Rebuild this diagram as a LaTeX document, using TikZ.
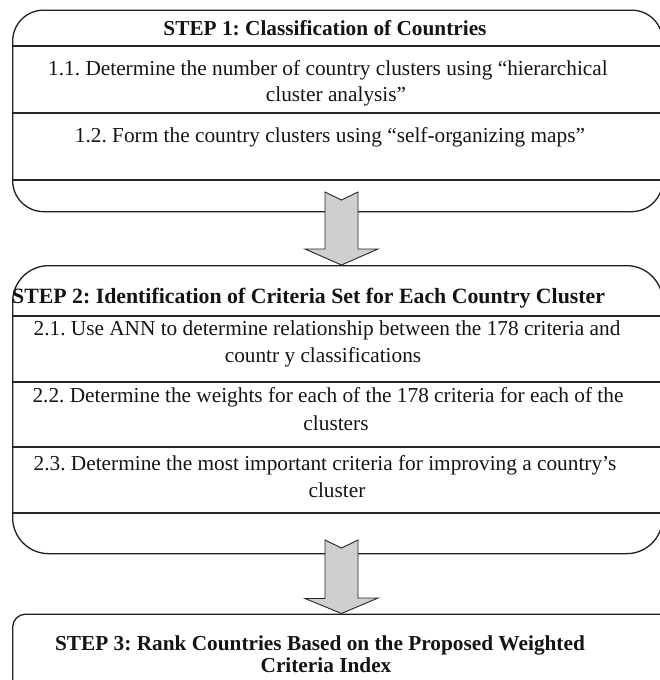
\documentclass[tikz,border=0pt]{standalone}
\usepackage{fontspec}
\setmainfont{Liberation Serif}
\frenchspacing
\begin{document}
\begin{tikzpicture}[x=1pt,y=-1pt,
  frame/.style={draw=black!88,line width=1.3pt,rectangle,inner sep=0pt,anchor=north west},
  rowline/.style={draw=black!85,line width=1.2pt},
  txt/.style={inner sep=0pt,anchor=base,font=\fontsize{21.3}{27}\selectfont,text=black!92},
  head/.style={txt,font=\fontsize{21.3}{27}\selectfont\bfseries},
  blockarrow/.style={draw=black!85,line width=0.9pt,fill=black!19,line join=miter}
]
\useasboundingbox (0,0) rectangle (660,680);

% ---- Step 1 frame and its rows
\node[frame,rounded corners=31pt,minimum width=650pt,minimum height=201.5pt] (box1) at (12,9.5) {};
\draw[rowline] (box1.west |- 0,46)  -- (box1.east |- 0,46);
\draw[rowline] (box1.west |- 0,113) -- (box1.east |- 0,113);
\draw[rowline] (box1.west |- 0,180) -- (box1.east |- 0,180);
\node[head] (h1) at (325,35) {STEP 1: Classification of Countries};
\node[txt] (s11a) at (328,75) {1.1. Determine the number of country clusters using “hierarchical};
\node[txt] (s11b) at (336,101) {cluster analysis”};
\node[txt] (s12) at (330,142) {1.2. Form the country clusters using “self-organizing maps”};

% ---- Step 2 frame and its rows
\node[frame,rounded corners=36pt,minimum width=650pt,minimum height=288pt] (box2) at (12,265) {};
\draw[rowline] (box2.west |- 0,316) -- (box2.east |- 0,316);
\draw[rowline] (box2.west |- 0,382) -- (box2.east |- 0,382);
\draw[rowline] (box2.west |- 0,447) -- (box2.east |- 0,447);
\draw[rowline] (box2.west |- 0,513) -- (box2.east |- 0,513);
\node[head,anchor=base west,font=\fontsize{21.8}{27}\selectfont\bfseries] (h2) at (12,303) {STEP 2: Identification of Criteria Set for Each Country Cluster};
\node[txt] (s21a) at (327,335) {2.1. Use ANN to determine relationship between the 178 criteria and};
\node[txt] (s21b) at (323,362) {countr y classifications};
\node[txt] (s22a) at (328,402) {2.2. Determine the weights for each of the 178 criteria for each of the};
\node[txt] (s22b) at (336,430) {clusters};
\node[txt] (s23a) at (325,470) {2.3. Determine the most important criteria for improving a country’s};
\node[txt] (s23b) at (337,497) {cluster};

% ---- Step 3 frame
\node[frame,rounded corners=13pt,minimum width=660pt,minimum height=100pt] (box3) at (12,613.5) {};
\node[head] (h3a) at (320,650) {STEP 3: Rank Countries Based on the Proposed Weighted};
\node[head] (h3b) at (326,672) {Criteria Index};

% ---- Block arrows between the steps (notched tail, triangular head)
\coordinate (tail1) at (341.5,192);
\coordinate (tail2) at (341.5,540);
\draw[blockarrow] (tail1) ++(-16.5,0) -- ++(16.5,8) -- ++(16.5,-8) -- ++(0,57)
  -- ++(20,0) -- (tail1 |- box2.north) -- ++(-36.5,-16) -- ++(20,0) -- cycle;
\draw[blockarrow] (tail2) ++(-16.5,0) -- ++(16.5,8) -- ++(16.5,-8) -- ++(0,58)
  -- ++(20,0) -- (tail2 |- box3.north) -- ++(-36.5,-15) -- ++(20,0) -- cycle;
\end{tikzpicture}
\end{document}
